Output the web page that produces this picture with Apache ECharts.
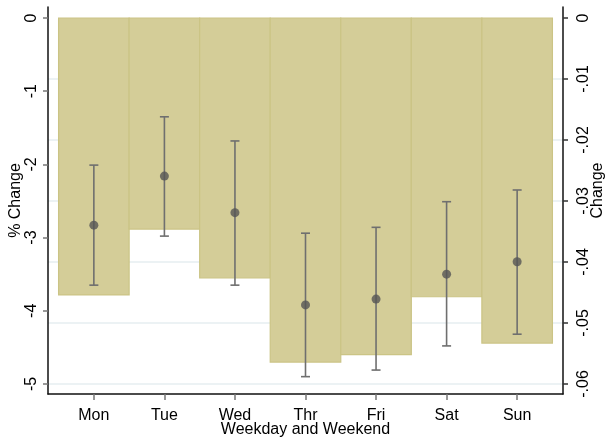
<!DOCTYPE html>
<html>
<head>
<meta charset="utf-8">
<script src="https://cdn.jsdelivr.net/npm/echarts@6/dist/echarts.min.js"></script>
<style>
  html, body { margin: 0; padding: 0; background: #fff; }
  #chart { width: 607px; height: 438px; }
</style>
</head>
<body>
<div id="chart"></div>
<script>
// Days of the week along the horizontal axis
const days = ['Mon', 'Tue', 'Wed', 'Thr', 'Fri', 'Sat', 'Sun'];

// Absolute change (right axis), drawn as bars hanging from zero
const changeValues = [-0.0454, -0.0346, -0.0426, -0.0564, -0.0552, -0.0457, -0.0533];

// Percent change (left axis): point estimates and confidence bounds
const pctEstimate = [-2.83, -2.16, -2.66, -3.92, -3.84, -3.50, -3.33];
const pctUpper = [-2.01, -1.35, -1.68, -2.94, -2.86, -2.51, -2.35];
const pctLower = [-3.65, -2.98, -3.65, -4.90, -4.81, -4.48, -4.32];

// Tick values for both vertical axes
const pctTicks = [0, -1, -2, -3, -4, -5];
const changeTicks = [0, -0.01, -0.02, -0.03, -0.04, -0.05, -0.06];

const dayPositions = days.map((d, i) => i + 1);

const FONT = '"Liberation Sans", Arial, sans-serif';
const textStyle = { fontFamily: FONT, fontSize: 16, color: '#000' };

function fmtChange(v) {
  if (v === 0) return '0';
  return (v < 0 ? '-' : '') + String(Math.abs(v)).replace(/^0/, '');
}

const chart = echarts.init(document.getElementById('chart'), null, { renderer: 'canvas' });

chart.setOption({
  animation: false,
  backgroundColor: '#fff',
  grid: { left: 48, right: 44, top: 7, bottom: 44, outerBoundsMode: 'none', containLabel: false },
  xAxis: {
    type: 'value',
    min: 0.35,
    max: 7.65,
    name: 'Weekday and Weekend',
    nameLocation: 'middle',
    nameGap: 28,
    nameMoveOverlap: false,
    nameTextStyle: textStyle,
    z: 10,
    axisLine: { show: true, onZero: false, lineStyle: { color: '#111', width: 1.5 } },
    axisTick: { show: true, length: 6, customValues: dayPositions, lineStyle: { color: '#777', width: 1.5 } },
    axisLabel: {
      customValues: dayPositions,
      margin: 14,
      ...textStyle,
      formatter: v => days[Math.round(v) - 1] || ''
    },
    splitLine: { show: false }
  },
  yAxis: [
    {
      type: 'value',
      position: 'left',
      min: -5.137,
      max: 0.150,
      name: '% Change',
      nameLocation: 'middle',
      nameGap: 24,
      nameMoveOverlap: false,
      nameRotate: 90,
      nameTextStyle: textStyle,
      z: 10,
      axisLine: { show: true, onZero: false, lineStyle: { color: '#111', width: 1.5 } },
      axisTick: { show: true, length: 5, customValues: pctTicks, lineStyle: { color: '#777', width: 1.5 } },
      axisLabel: {
        customValues: pctTicks,
        rotate: 90,
        margin: 8,
        ...textStyle,
        formatter: v => String(v)
      },
      splitLine: { show: false }
    },
    {
      type: 'value',
      position: 'right',
      min: -0.06164,
      max: 0.0018,
      name: 'Change',
      nameLocation: 'middle',
      nameGap: 27,
      nameMoveOverlap: false,
      nameRotate: 90,
      nameTextStyle: { ...textStyle, padding: [0, 0, 0, 20] },
      z: 10,
      axisLine: { show: true, onZero: false, lineStyle: { color: '#111', width: 1.5 } },
      axisTick: { show: true, length: 5, customValues: changeTicks, lineStyle: { color: '#333', width: 1.5 } },
      axisLabel: {
        customValues: changeTicks,
        rotate: 90,
        margin: 13,
        ...textStyle,
        formatter: v => fmtChange(v)
      },
      splitLine: { show: false }
    }
  ],
  series: [
    {
      // faint reference lines at the right-axis ticks
      type: 'custom',
      yAxisIndex: 1,
      silent: true,
      z: 1,
      data: changeTicks.filter(v => v !== 0).map(v => [v]),
      renderItem: (params, api) => {
        const y = api.coord([1, api.value(0)])[1];
        const cs = params.coordSys;
        return {
          type: 'line',
          shape: { x1: cs.x, y1: y, x2: cs.x + cs.width, y2: y },
          style: { stroke: '#e6eef1', lineWidth: 1.5 }
        };
      }
    },
    {
      // bars of the absolute change, one full category wide
      type: 'custom',
      yAxisIndex: 1,
      z: 2,
      data: changeValues.map((v, i) => [dayPositions[i], v]),
      renderItem: (params, api) => {
        const x = api.value(0);
        const top = api.coord([x - 0.5, 0]);
        const bot = api.coord([x + 0.5, api.value(1)]);
        return {
          type: 'rect',
          shape: { x: top[0], y: top[1], width: bot[0] - top[0], height: bot[1] - top[1] },
          style: { fill: '#d4cd98', stroke: '#cbc485', lineWidth: 1.2 }
        };
      }
    },
    {
      // confidence intervals of the percent change
      type: 'custom',
      yAxisIndex: 0,
      z: 3,
      data: pctEstimate.map((v, i) => [dayPositions[i], pctUpper[i], pctLower[i]]),
      renderItem: (params, api) => {
        const x = api.value(0);
        const hi = api.coord([x, api.value(1)]);
        const lo = api.coord([x, api.value(2)]);
        const cap = 4.5;
        const style = { stroke: '#6f6f6f', lineWidth: 1.6 };
        return {
          type: 'group',
          children: [
            { type: 'line', shape: { x1: hi[0], y1: hi[1], x2: lo[0], y2: lo[1] }, style },
            { type: 'line', shape: { x1: hi[0] - cap, y1: hi[1], x2: hi[0] + cap, y2: hi[1] }, style },
            { type: 'line', shape: { x1: lo[0] - cap, y1: lo[1], x2: lo[0] + cap, y2: lo[1] }, style }
          ]
        };
      }
    },
    {
      // point estimates of the percent change
      type: 'scatter',
      yAxisIndex: 0,
      z: 4,
      symbol: 'circle',
      symbolSize: 9,
      itemStyle: { color: '#555555' },
      data: pctEstimate.map((v, i) => [dayPositions[i], v])
    }
  ]
});
</script>
</body>
</html>
